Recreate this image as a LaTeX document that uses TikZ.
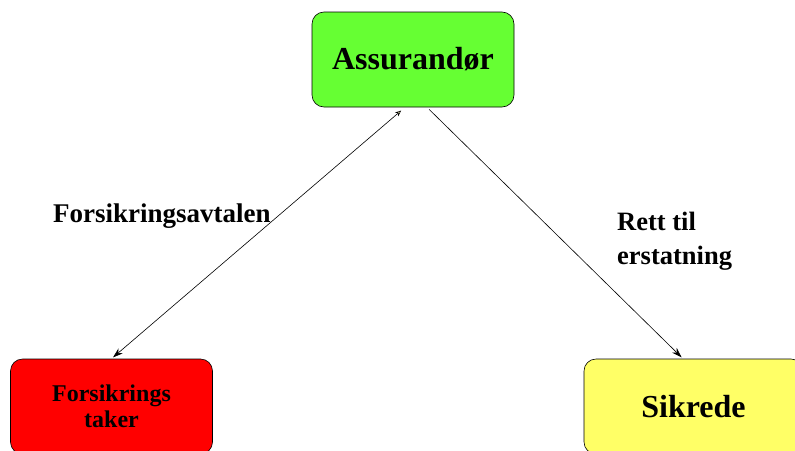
\documentclass[tikz,border=0pt]{standalone}
\usepackage{fontspec}
\setmainfont{Liberation Serif}
\usetikzlibrary{arrows.meta}
\definecolor{boxgreen}{HTML}{66FF33}
\definecolor{boxred}{HTML}{FF0000}
\definecolor{boxyellow}{HTML}{FFFF66}
\tikzset{
  party/.style={draw=black, line width=0.6pt, rounded corners=12pt, minimum width=202pt, minimum height=95pt, inner sep=0pt, align=center, font=\bfseries},
  relation/.style={draw=black, line width=0.6pt},
  lbl/.style={font=\bfseries\fontsize{26.5}{34}\selectfont, align=left, inner sep=0pt}
}
\begin{document}
\begin{tikzpicture}[x=1pt, y=-1pt]
\useasboundingbox (0,0) rectangle (795,450);
\node[party, fill=boxgreen, font=\bfseries\fontsize{32}{36}\selectfont] (a) at (413,59.5) {Assurandør};
\node[party, fill=boxred, font=\bfseries\fontsize{24}{26}\selectfont] (b) at (111.5,406.5) {Forsikrings\\taker};
\node[party, fill=boxyellow, minimum width=219pt, font=\bfseries\fontsize{32}{36}\selectfont] (c) at (693.5,406.5) {Sikrede};
\draw[relation, {Stealth[open, fill=yellow!25, length=6pt, width=5pt]}-{Stealth[length=10pt, width=6.5pt]}, shorten <=5pt, shorten >=2pt] ([xshift=-8pt]a.south) -- (b.north);
\draw[relation, -{Stealth[length=10pt, width=6.5pt]}, shorten <=3pt, shorten >=2pt] ([xshift=14pt]a.south) -- ([xshift=-10.5pt]c.north);
\node[lbl, font=\bfseries\fontsize{27}{34}\selectfont, anchor=base west] (l1) at (53,222) {Forsikringsavtalen};
\node[lbl, anchor=west] (l2) at (617,241) {Rett til\\erstatning};
\end{tikzpicture}
\end{document}
